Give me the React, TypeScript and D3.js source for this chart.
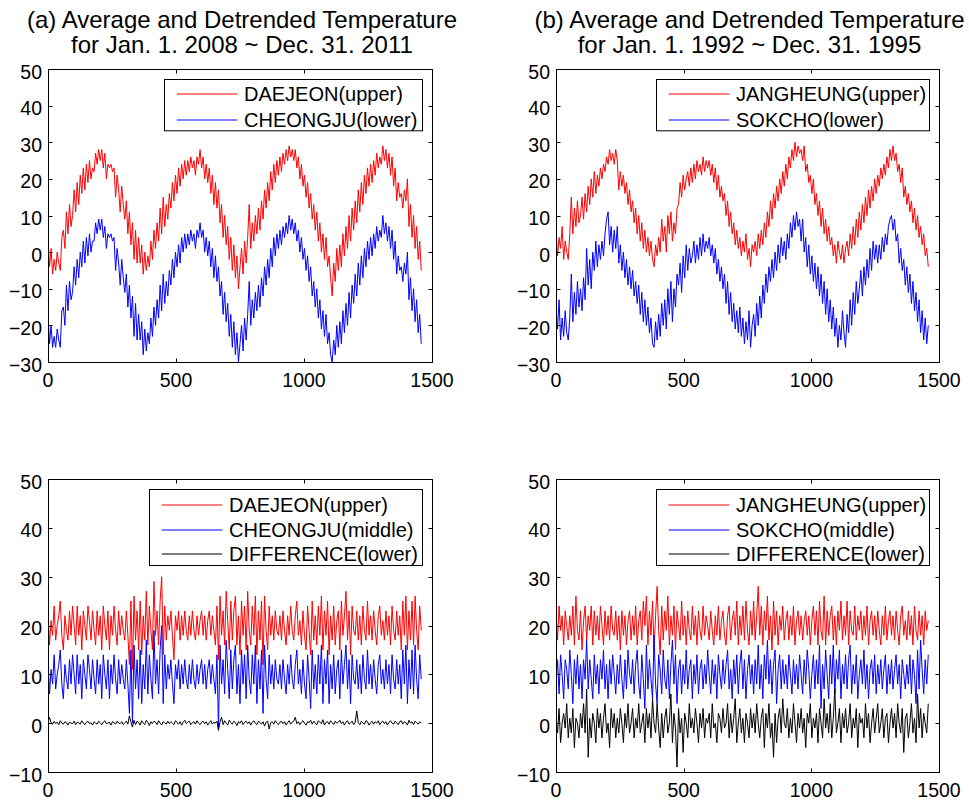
import React from "react";
import * as d3 from "d3";

// ---------------- data (sampled every STEP days) ----------------
const STEP = 6;
const sampleDays = d3.range(0, 1461, STEP);

const xTicks = [0, 500, 1000, 1500];
const yTicksTop = [-30, -20, -10, 0, 10, 20, 30, 40, 50];
const yTicksBottom = [-10, 0, 10, 20, 30, 40, 50];

const titleA = ["(a) Average and Detrended Temperature", "for Jan. 1. 2008 ~ Dec. 31. 2011"];
const titleB = ["(b) Average and Detrended Temperature", "for Jan. 1. 1992 ~ Dec. 31. 1995"];

const legendTL = ["DAEJEON(upper)", "CHEONGJU(lower)"];
const legendTR = ["JANGHEUNG(upper)", "SOKCHO(lower)"];
const legendBL = ["DAEJEON(upper)", "CHEONGJU(middle)", "DIFFERENCE(lower)"];
const legendBR = ["JANGHEUNG(upper)", "SOKCHO(middle)", "DIFFERENCE(lower)"];

// (a) top: average temperature (Daejeon upper, Cheongju lower)
const daejeonAvg = [
  3, -4, 1, -6, -2, -5, 0, -3, -5, 4,
  6, 1, 11, 5, 13, 7, 10, 17, 11, 19,
  13, 21, 16, 23, 17, 24, 19, 25, 20, 23,
  22, 27, 24, 28, 25, 28, 23, 27, 20, 24,
  23, 24, 22, 23, 15, 21, 17, 11, 18, 13,
  9, 14, 5, 11, 2, 8, -2, 6, -3, 4,
  -3, 2, -6, 0, -5, -1, -4, 3, -2, 6,
  1, 8, 3, 12, 5, 15, 7, 13, 9, 16,
  12, 19, 14, 21, 16, 23, 18, 24, 20, 25,
  21, 25, 22, 26, 23, 25, 21, 26, 24, 28,
  23, 26, 20, 24, 19, 23, 16, 21, 13, 19,
  12, 17, 8, 13, 4, 10, 2, 7, -2, 4,
  -5, 2, -7, -1, -10, -4, 1, -6, 3, -3,
  4, 13, 1, 8, 3, 10, 5, 12, 6, 14,
  9, 17, 12, 19, 14, 22, 17, 24, 19, 25,
  21, 26, 22, 27, 24, 28, 25, 29, 26, 28,
  25, 28, 23, 26, 20, 24, 18, 21, 15, 19,
  12, 16, 9, 13, 6, 11, 3, 8, 0, 5,
  -2, 4, -4, -1, -7, -12, -3, -8, 1, -5,
  2, -4, 5, -1, 7, 1, 10, 3, 12, 6,
  14, 8, 17, 11, 19, 13, 21, 16, 23, 18,
  24, 19, 25, 21, 27, 23, 26, 24, 29, 25,
  28, 23, 27, 21, 26, 18, 23, 14, 19, 15,
  16, 12, 17, 14, 20, 7, 13, 4, 10, 1, 7, -2, 3, -5,
];
const cheongjuAvg = [
  -17, -25, -20, -26, -23, -26, -21, -24, -26, -16,
  -15, -20, -9, -16, -8, -13, -11, -4, -9, -2,
  -7, 0, -4, 3, -3, 4, -1, 5, 0, 3,
  3, 8, 5, 9, 6, 9, 4, 7, 1, 5,
  4, 5, 3, 4, -5, 1, -3, -9, -2, -7,
  -11, -6, -15, -9, -18, -12, -23, -14, -24, -17,
  -24, -19, -28, -21, -27, -22, -25, -18, -23, -15,
  -20, -13, -18, -9, -16, -6, -14, -8, -12, -5,
  -9, -2, -7, 0, -4, 2, -3, 4, 0, 5,
  1, 5, 2, 6, 3, 5, 1, 6, 4, 8,
  4, 6, 0, 4, -1, 3, -4, 1, -7, -1,
  -8, -4, -12, -8, -17, -11, -19, -14, -23, -17,
  -26, -19, -28, -22, -30, -25, -20, -27, -18, -24,
  -17, -8, -20, -13, -18, -11, -16, -9, -15, -7,
  -12, -4, -9, -2, -7, 1, -4, 4, -1, 5,
  1, 6, 2, 7, 4, 8, 5, 10, 6, 9,
  5, 8, 3, 6, 0, 4, -2, 1, -5, -1,
  -8, -4, -12, -8, -15, -10, -18, -13, -21, -16,
  -23, -17, -25, -22, -28, -30, -24, -28, -20, -26,
  -19, -25, -16, -22, -14, -20, -11, -18, -9, -14,
  -6, -12, -3, -9, -1, -7, 1, -4, 3, -2,
  4, -1, 5, 1, 7, 3, 6, 4, 10, 5,
  8, 3, 7, 1, 6, -2, 3, -6, -1, -5,
  -4, -8, -3, -6, 0, -13, -7, -16, -10, -19, -13, -22, -17, -25,
];

// (b) top: average temperature (Jangheung upper, Sokcho lower)
const jangheungAvg = [
  6, -1, 4, 1, 7, -2, 3, 0, -2, 5,
  15, 5, 12, 7, 14, 8, 10, 15, 9, 16,
  11, 18, 13, 20, 15, 22, 16, 21, 18, 23,
  20, 24, 22, 26, 24, 28, 25, 27, 24, 28,
  25, 17, 22, 18, 21, 16, 19, 13, 17, 11,
  14, 8, 12, 5, 10, 3, 8, 1, 6, 0,
  4, -1, 3, -2, -4, 2, -1, 4, 0, 9,
  3, 7, 0, 10, 5, 11, 3, 8, 5, 12,
  13, 19, 15, 21, 17, 20, 22, 18, 23, 19,
  24, 20, 25, 22, 24, 21, 26, 22, 25, 23,
  25, 21, 24, 19, 23, 17, 21, 15, 18, 14,
  16, 10, 14, 7, 11, 5, 8, 2, 6, 1,
  4, -1, 3, 0, 5, -2, 1, -4, 2, 0,
  3, -1, 5, 1, 6, 2, 8, 4, 11, 7,
  14, 9, 16, 12, 18, 14, 20, 16, 22, 18,
  24, 20, 26, 23, 28, 25, 30, 26, 29, 27,
  28, 25, 29, 22, 24, 19, 21, 16, 20, 13,
  16, 10, 14, 7, 12, 5, 9, 3, 7, 2,
  4, -1, 2, -3, 3, 0, -2, 2, -3, 1,
  3, -1, 5, 1, 7, 2, 9, 4, 11, 6,
  13, 8, 15, 10, 17, 12, 18, 14, 20, 16,
  21, 18, 23, 20, 24, 21, 26, 23, 28, 25,
  29, 25, 27, 22, 24, 19, 23, 15, 18, 13,
  16, 11, 14, 8, 12, 6, 10, 4, 7, 2, 5, -1, 1, -4,
];
const sokchoAvg = [
  -15, -21, -13, -24, -18, -23, -16, -22, -24, -18,
  -6, -19, -11, -17, -8, -15, -10, -16, -7, -13,
  1, -9, -2, -10, 0, -5, 3, -4, 2, -2,
  3, -1, 5, 9, 11, 2, 7, 0, 6, 1,
  7, -3, 2, -5, 0, -7, -2, -9, -4, -10,
  -5, -12, -8, -14, -9, -17, -11, -19, -13, -20,
  -15, -22, -18, -25, -26, -19, -24, -17, -23, -14,
  -20, -13, -21, -10, -17, -8, -19, -10, -15, -6,
  -9, -3, -11, -1, -7, 2, -5, 1, -3, -1,
  3, -3, 2, -2, 4, -1, 5, 0, 3, 1,
  4, -1, 2, -3, 1, -6, -2, -8, -4, -10,
  -6, -14, -8, -17, -11, -19, -14, -21, -16, -22,
  -15, -23, -18, -25, -19, -24, -16, -26, -20, -17,
  -23, -14, -20, -12, -18, -9, -14, -6, -11, -4,
  -8, -2, -7, 0, -5, 2, -3, 4, -1, 3,
  -2, 5, 1, 8, 4, 10, 6, 11, 7, 9,
  3, 9, 0, 4, -4, 2, -6, -1, -8, -3,
  -10, -4, -12, -6, -14, -8, -17, -10, -19, -13,
  -21, -15, -23, -18, -26, -20, -24, -16, -22, -26,
  -17, -22, -13, -20, -11, -17, -8, -14, -10, -5,
  -12, -4, -9, -2, -7, 1, -5, 3, -2, 2,
  -3, 2, -2, 4, 0, 5, 2, 7, 9, 10,
  6, 9, 3, 5, -3, 1, -5, -2, -9, -4,
  -11, -6, -14, -8, -16, -11, -19, -13, -22, -16, -24, -18, -25, -20,
];

// (a) bottom: detrended (Daejeon +20, Cheongju +10, difference)
const daejeonDet = [
  23, 16, 21, 18, 24, 17, 20, 22, 25, 18,
  15, 22, 19, 17, 23, 18, 24, 20, 16, 24,
  18, 22, 15, 23, 20, 17, 24, 21, 17, 23,
  19, 16, 23, 18, 22, 15, 24, 20, 17, 23,
  15, 22, 18, 24, 19, 16, 23, 18, 22, 19,
  17, 23, 18, 12, 25, 11, 26, 17, 23, 15,
  25, 14, 22, 17, 27, 16, 24, 19, 15, 29,
  18, 23, 16, 25, 30, 14, 24, 17, 22, 19,
  23, 18, 13, 22, 19, 23, 17, 22, 18, 23,
  19, 17, 22, 18, 23, 19, 17, 22, 18, 21,
  23, 18, 22, 17, 21, 23, 18, 22, 19, 16,
  24, 13, 26, 18, 23, 16, 27, 21, 15, 25,
  17, 23, 26, 16, 22, 14, 25, 18, 24, 15,
  27, 19, 16, 24, 18, 26, 14, 23, 17, 25,
  12, 26, 19, 15, 24, 18, 22, 17, 23, 19,
  18, 22, 17, 23, 19, 16, 22, 18, 24, 19,
  17, 22, 25, 18, 21, 16, 23, 18, 15, 24,
  19, 14, 25, 17, 22, 16, 24, 18, 26, 15,
  23, 18, 25, 14, 22, 17, 24, 16, 21, 23,
  15, 25, 18, 22, 27, 17, 23, 14, 24, 19,
  18, 23, 17, 22, 16, 24, 19, 17, 25, 18,
  22, 17, 23, 19, 16, 22, 24, 18, 21, 17,
  23, 18, 22, 16, 24, 19, 17, 23, 18, 22,
  15, 25, 18, 26, 15, 23, 17, 25, 16, 26, 19, 15, 24, 19,
];
const cheongjuDet = [
  13, 6, 11, 8, 14, 7, 10, 12, 15, 8,
  5, 12, 9, 7, 13, 8, 14, 10, 6, 14,
  8, 12, 5, 13, 10, 7, 14, 11, 7, 13,
  9, 6, 13, 8, 12, 5, 14, 10, 7, 13,
  5, 12, 8, 14, 9, 6, 13, 8, 12, 9,
  7, 13, 8, 2, 15, 0, 16, 7, 13, 5,
  15, 4, 12, 7, 17, 6, 14, 9, 5, 19,
  8, 13, 6, 15, 20, 4, 14, 7, 12, 9,
  13, 8, 4, 12, 9, 13, 7, 12, 8, 13,
  9, 7, 12, 8, 13, 9, 7, 12, 8, 11,
  13, 8, 12, 7, 11, 13, 8, 12, 9, 6,
  14, -1, 16, 8, 13, 6, 17, 11, 5, 15,
  7, 13, 16, 6, 12, 4, 15, 8, 14, 5,
  16, 9, 6, 14, 8, 16, 4, 13, 7, 15,
  2, 16, 9, 5, 14, 8, 12, 7, 13, 9,
  8, 12, 7, 13, 9, 6, 12, 8, 14, 9,
  7, 12, 15, 8, 11, 6, 13, 8, 5, 14,
  9, 3, 15, 7, 12, 6, 14, 8, 16, 4,
  13, 8, 15, 4, 12, 7, 14, 6, 11, 13,
  5, 15, 8, 12, 16, 7, 13, 4, 14, 9,
  8, 13, 7, 12, 6, 14, 9, 7, 15, 8,
  12, 7, 13, 9, 6, 12, 14, 8, 11, 7,
  13, 8, 12, 6, 14, 9, 7, 13, 8, 12,
  5, 15, 8, 16, 4, 13, 7, 15, 6, 16, 9, 5, 14, 9,
];
const diffA = [
  0.3, 1.2, 0.1, -0.2, 0.4, -0.1, 0.2, -0.3, 0.5, 0,
  -0.2, 0.3, 0.1, -0.4, 0.2, 0, -0.1, 0.4, -0.3, 0.2,
  0.1, -0.2, 0.5, 0, -0.3, 0.2, 0.4, -0.1, 0.1, -0.4,
  0.3, 0, -0.2, 0.4, 0.1, -0.3, 0.2, 0.5, -0.1, 0,
  0.2, -0.4, 0.3, 0.1, -0.2, 0.4, 0, -0.1, 0.3, -0.3,
  0.1, 0.4, -0.2, 1.5, 0.2, -0.8, 0.6, -0.3, 0.4, 0.1,
  -0.4, 0.5, 0, -0.3, 0.6, 0.2, -0.5, 0.3, -0.1, 0.4,
  0.2, -0.3, 0.5, 0, -0.4, 0.3, 0.1, -0.2, 0.4, -0.1,
  0.3, 0, -0.3, 0.5, 0.1, -0.2, 0.3, -0.4, 0.2, 0.6,
  -0.1, 0.2, 0.4, -0.3, 0.1, 0.3, -0.2, 0.5, 0, -0.3,
  0.2, 0.4, -0.1, 0.3, -0.4, 0.1, 0.5, -0.2, 0.2, 0,
  0.4, -1.5, 0.3, 1.2, -0.3, 0.5, 0, -0.4, 0.6, 0.1,
  -0.2, 0.4, 0.1, -0.5, 0.3, 0, 0.5, -0.3, 0.2, 0.4,
  -0.1, 0.3, -0.4, 0.2, 0.5, 0, -0.3, 0.4, 0.1, -0.2,
  0.3, -0.6, 0.2, 0.4, -1.2, 0.1, 0.3, -0.2, 0.5, 0,
  -0.3, 0.2, 0.4, -0.1, 0.3, -0.4, 0.1, 0.5, -0.2, 0.2,
  0.4, 1.2, -0.1, 0.3, -0.3, 0.2, 0.5, 0, -0.4, 0.3,
  0.1, 0.6, -0.2, 0.4, 0, -0.3, 0.5, 0.2, -0.1, 0.7,
  -0.4, 0.2, 0.3, -0.2, 0.5, 0.1, -0.3, 0.4, 0, 0.2,
  0.6, -0.1, 0.3, -0.4, 0.2, 0.5, -0.2, 0.1, 0.4, -0.3,
  0.2, 2.5, 0.1, -0.3, 0.4, 0, -0.2, 0.5, 0.3, -0.4,
  0.1, 0.4, -0.2, 0.3, 0, 0.5, -0.3, 0.2, 0.4, -0.1,
  0.3, -0.4, 0.2, 0.5, 0, -0.2, 0.4, 0.1, -0.3, 0.3,
  0.5, -0.2, 0.3, 0.1, -0.4, 0.6, 0, 0.3, -0.3, 0.4, 0.1, -0.2, 0.3, 0,
];

// (b) bottom: detrended (Jangheung +20, Sokcho +10, difference)
const jangheungDet = [
  23, 17, 24, 19, 22, 16, 23, 20, 17, 22,
  18, 24, 16, 26, 19, 17, 23, 15, 21, 24,
  17, 22, 19, 24, 16, 23, 18, 22, 17, 24,
  20, 16, 23, 18, 22, 17, 24, 19, 18, 23,
  17, 22, 15, 23, 18, 22, 16, 21, 23, 17,
  22, 18, 24, 16, 21, 23, 17, 25, 20, 26,
  16, 23, 18, 25, 15, 22, 28, 19, 14, 24,
  17, 23, 19, 26, 16, 22, 18, 24, 15, 23,
  20, 17, 25, 18, 22, 16, 23, 19, 17, 24,
  18, 22, 16, 23, 19, 17, 24, 18, 22, 20,
  17, 23, 19, 16, 22, 18, 24, 17, 21, 23,
  18, 16, 22, 24, 17, 21, 23, 18, 25, 16,
  22, 18, 24, 17, 25, 19, 16, 23, 18, 25,
  17, 22, 28, 18, 24, 16, 23, 19, 26, 17,
  22, 15, 25, 18, 23, 16, 22, 19, 24, 17,
  21, 23, 17, 22, 18, 24, 16, 21, 23, 18,
  22, 17, 21, 23, 18, 22, 16, 21, 24, 18,
  23, 16, 25, 19, 17, 26, 16, 23, 18, 22,
  24, 17, 22, 16, 23, 19, 25, 17, 22, 18,
  25, 16, 23, 19, 18, 24, 17, 22, 19, 23,
  17, 22, 18, 24, 16, 21, 23, 18, 22, 17,
  23, 19, 16, 22, 18, 24, 17, 21, 23, 18,
  22, 17, 23, 19, 16, 22, 24, 18, 21, 17,
  23, 18, 22, 16, 24, 19, 17, 23, 18, 22, 16, 23, 19, 21,
];
const sokchoDet = [
  8, 13, 6, 14, 10, 5, 13, 11, 7, 15,
  10, 4, 13, 8, 14, 7, 12, 5, 13, 9,
  17, 7, 13, 9, 5, 14, 8, 12, 6, 13,
  9, 15, 7, 12, 5, 13, 8, 14, 10, 6,
  12, 8, 14, 9, 5, 13, 7, 15, 10, 8,
  13, 6, 12, 15, 8, 5, 14, 9, 3, 16,
  7, 13, 9, 5, 18, 8, 4, 14, 11, 6,
  15, 9, 7, 13, 5, 12, 17, 8, 14, 4,
  11, 13, 6, 12, 8, 15, 7, 11, 13, 5,
  12, 8, 14, 6, 11, 13, 7, 12, 8, 15,
  10, 6, 13, 8, 12, 5, 14, 10, 7, 13,
  8, 12, 15, 7, 11, 5, 13, 8, 14, 6,
  12, 15, 7, 13, 5, 11, 14, 8, 12, 6,
  13, 8, 16, 7, 12, 5, 14, 9, 17, 8,
  13, 6, 12, 15, 4, 11, 14, 7, 13, 8,
  12, 7, 14, 10, 6, 13, 8, 12, 7, 14,
  10, 6, 13, 8, 15, 11, 5, 10, 14, 7,
  13, 8, 16, 3, 12, 7, 15, 10, 5, 14,
  8, 16, 6, 13, 9, 15, 5, 12, 8, 14,
  7, 13, 16, 6, 12, 8, 14, 5, 10, 13,
  8, 15, 7, 12, 5, 11, 13, 8, 14, 6,
  12, 8, 13, 7, 11, 14, 6, 12, 8, 13,
  7, 11, 14, 8, 12, 5, 13, 10, 7, 12,
  8, 14, 6, 13, 10, 4, 15, 7, 17, 11, 6, 13, 8, 14,
];
const diffB = [
  1, -2, 3, -4, 0, 2, -1, 4, -3, 1,
  -2, 3, -5, 1, 0, -3, 2, -1, 4, -2,
  7, -7, 1, -3, 2, 0, -4, 3, -1, 2,
  -3, 1, 4, -2, 0, -5, 3, -1, 2, -3,
  1, -2, 3, 0, -4, 2, -1, 4, -2, 0,
  3, -3, 1, -1, 4, -2, 0, 2, -4, 3,
  -1, 2, -3, 5, 0, -2, 4, -1, -5, 2,
  -3, 1, 3, -2, 0, 6, -4, 2, -1, -9,
  3, -2, 1, -6, 2, 0, -3, 4, -1, 1,
  -2, 3, 0, -4, 2, -1, 3, -3, 1, 0,
  2, -3, 4, -1, 0, -4, 2, 1, -2, 3,
  -1, 0, 4, -3, 2, -2, 1, 5, -4, 0,
  3, -2, 1, -4, 2, 0, -3, 3, -1, 2,
  -2, 4, 0, -3, 1, 3, -5, 2, -1, 4,
  -3, 0, -7, 2, -4, 1, 3, -2, 5, 0,
  -1, 3, -3, 1, -2, 4, 0, -4, 2, -1,
  3, -2, 1, -5, 2, 0, 4, -3, 1, -1,
  2, -4, 3, 0, -3, 5, -1, 2, -2, 4,
  -3, 1, 7, -2, 0, 3, -4, 2, -1, 3,
  -2, 0, 4, -3, 1, -1, 3, -5, 2, 0,
  1, -3, 4, -1, 2, -4, 0, 3, -2, 1,
  4, -2, 0, 3, -3, 1, 2, -4, 0, 3,
  -1, 2, -3, 4, 0, -2, 3, -6, 1, 2,
  -3, 0, 4, -2, 1, -4, 6, -1, 3, -3, 2, 0, -2, 4,
];

// ---------------- layout / style ----------------
const RED = "#ff0000";
const BLUE = "#0000ff";
const BLACK = "#000000";
const FONT = "'Liberation Sans', Arial, Helvetica, sans-serif";

type PanelDef = {
  id: string;
  x0: number; x1: number; y0: number; y1: number;
  domain: [number, number];
  yTicks: number[];
  series: { values: number[]; color: string }[];
  labels: string[];
  legendW: number;
  rowFirst: number;
  rowGap: number;
  title?: string[];
};

const panels: PanelDef[] = [
  {
    id: "tl", x0: 48, x1: 432, y0: 69, y1: 362, domain: [-30, 50], yTicks: yTicksTop,
    series: [{ values: daejeonAvg, color: RED }, { values: cheongjuAvg, color: BLUE }],
    labels: legendTL, legendW: 258, rowFirst: 15.3, rowGap: 25.7, title: titleA,
  },
  {
    id: "tr", x0: 556, x1: 939, y0: 69, y1: 362, domain: [-30, 50], yTicks: yTicksTop,
    series: [{ values: jangheungAvg, color: RED }, { values: sokchoAvg, color: BLUE }],
    labels: legendTR, legendW: 273, rowFirst: 15.3, rowGap: 25.7, title: titleB,
  },
  {
    id: "bl", x0: 48, x1: 432, y0: 479, y1: 772, domain: [-10, 50], yTicks: yTicksBottom,
    series: [
      { values: daejeonDet, color: RED },
      { values: cheongjuDet, color: BLUE },
      { values: diffA, color: BLACK },
    ],
    labels: legendBL, legendW: 273, rowFirst: 16, rowGap: 24.5,
  },
  {
    id: "br", x0: 556, x1: 939, y0: 479, y1: 772, domain: [-10, 50], yTicks: yTicksBottom,
    series: [
      { values: jangheungDet, color: RED },
      { values: sokchoDet, color: BLUE },
      { values: diffB, color: BLACK },
    ],
    labels: legendBR, legendW: 273, rowFirst: 16, rowGap: 24.5,
  },
];

const fmt = (v: number) => (v < 0 ? "\u2212" + Math.abs(v) : String(v));

function Panel({ p }: { p: PanelDef }) {
  const x = d3.scaleLinear().domain([0, 1500]).range([p.x0, p.x1]);
  const y = d3.scaleLinear().domain(p.domain).range([p.y1, p.y0]);
  const line = d3
    .line<number>()
    .x((_, i) => x(sampleDays[i]))
    .y((d) => y(d));
  const tick = 4;
  const lx1 = p.x1 - 10;
  const lx0 = lx1 - p.legendW;
  const ly0 = p.y0 + 10;
  const lh = p.rowFirst * 2 + p.rowGap * (p.labels.length - 1) - 5;
  const cx = (p.x0 + p.x1) / 2 + 2;
  return (
    <g>
      <defs>
        <clipPath id={"clip-" + p.id}>
          <rect x={p.x0} y={p.y0} width={p.x1 - p.x0 + 1} height={p.y1 - p.y0 + 1} />
        </clipPath>
      </defs>
      {p.title && (
        <g fontSize={24} textAnchor="middle" fill="#000">
          <text x={cx} y={28}>{p.title[0]}</text>
          <text x={cx} y={53}>{p.title[1]}</text>
        </g>
      )}
      <g clipPath={`url(#clip-${p.id})`}>
        {p.series.map((s, k) => (
          <path key={k} d={line(s.values) || ""} fill="none" stroke={s.color} strokeWidth={1} />
        ))}
      </g>
      <rect
        x={p.x0 + 0.5}
        y={p.y0 + 0.5}
        width={p.x1 - p.x0}
        height={p.y1 - p.y0}
        fill="none"
        stroke="#000"
        strokeWidth={1}
      />
      {xTicks.map((t) => {
        const xx = Math.round(x(t)) + 0.5;
        return (
          <g key={"x" + t}>
            <line x1={xx} x2={xx} y1={p.y1 + 0.5} y2={p.y1 + 0.5 - tick} stroke="#000" />
            <line x1={xx} x2={xx} y1={p.y0 + 0.5} y2={p.y0 + 0.5 + tick} stroke="#000" />
            <text x={x(t)} y={p.y1 + 25} fontSize={19.5} textAnchor="middle">{fmt(t)}</text>
          </g>
        );
      })}
      {p.yTicks.map((t) => {
        const yy = Math.round(y(t)) + 0.5;
        return (
          <g key={"y" + t}>
            <line x1={p.x0 + 0.5} x2={p.x0 + 0.5 + tick} y1={yy} y2={yy} stroke="#000" />
            <line x1={p.x1 + 0.5} x2={p.x1 + 0.5 - tick} y1={yy} y2={yy} stroke="#000" />
            <text x={p.x0 - 6} y={y(t) + 9.5} fontSize={19.5} textAnchor="end">{fmt(t)}</text>
          </g>
        );
      })}
      <g>
        <rect
          x={lx0 + 0.5}
          y={ly0 + 0.5}
          width={p.legendW}
          height={lh}
          fill="#fff"
          stroke="#000"
          strokeWidth={1}
        />
        {p.labels.map((lab, k) => {
          const ry = Math.round(ly0 + p.rowFirst + k * p.rowGap);
          return (
            <g key={lab}>
              <line
                x1={lx0 + 12.7}
                x2={lx0 + 73.3}
                y1={ry}
                y2={ry}
                stroke={p.series[k].color}
                strokeWidth={1}
              />
              <text x={lx0 + 80} y={ry + 7} fontSize={20}>{lab}</text>
            </g>
          );
        })}
      </g>
    </g>
  );
}

export default function App() {
  return (
    <svg
      width={969}
      height={802}
      viewBox="0 0 969 802"
      style={{ position: "absolute", left: 0, top: 0, background: "#fff", fontFamily: FONT }}
    >
      <rect x={0} y={0} width={969} height={802} fill="#fff" />
      {panels.map((p) => (
        <Panel key={p.id} p={p} />
      ))}
    </svg>
  );
}
